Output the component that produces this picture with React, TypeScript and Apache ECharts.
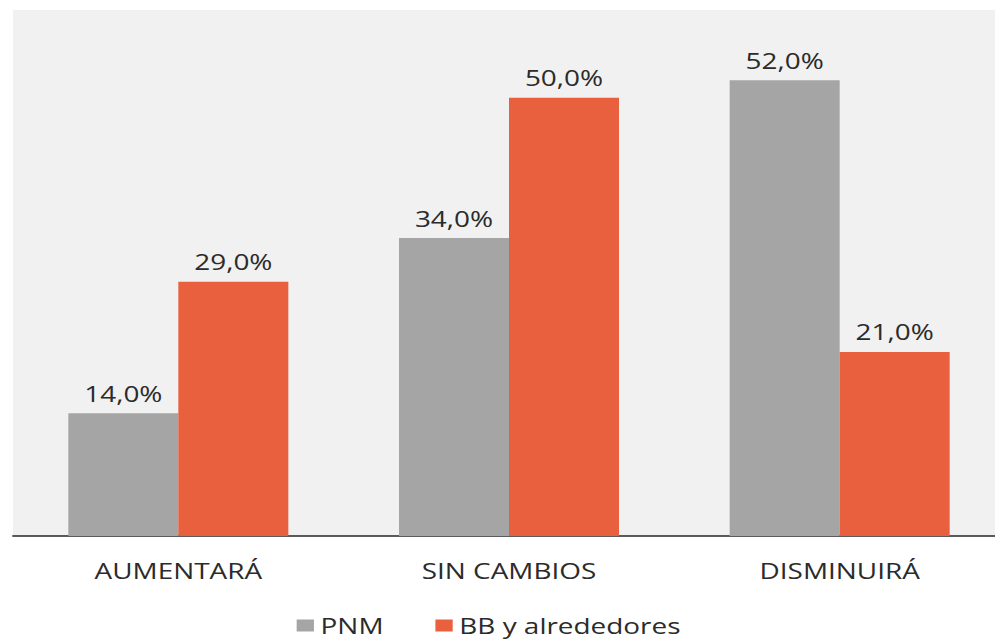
import React, { useEffect, useRef } from 'react';
import * as echarts from 'echarts';

const categories = ['AUMENTARÁ', 'SIN CAMBIOS', 'DISMINUIRÁ'];
const seriesNames = ['PNM', 'BB y alrededores'];
const pnmValues = [14, 34, 52];
const bbValues = [29, 50, 21];

const W = 995;
const H = 640;
const STRETCH = 1.33;
const innerW = 1010 / STRETCH;

export default function App() {
  const ref = useRef<HTMLDivElement>(null);
  useEffect(() => {
    document.body.style.margin = '0';
    const chart = echarts.init(ref.current!, null, { renderer: 'svg' });
    const fmt = (p: any) => Number(p.value).toFixed(1).replace('.', ',') + '%';
    const gridLeft = 13 / STRETCH;
    const gridWidth = 992 / STRETCH;
    chart.setOption({
      animation: false,
      backgroundColor: '#ffffff',
      textStyle: { fontFamily: 'Open Sans' },
      grid: {
        show: true,
        left: gridLeft,
        width: gridWidth,
        top: 10,
        bottom: 104,
        backgroundColor: '#f1f1f1',
        borderWidth: 0,
        containLabel: false,
      },
      legend: {
        data: seriesNames,
        left: 290 / STRETCH,
        top: 610,
        itemWidth: 13,
        itemHeight: 12,
        itemGap: 39,
        icon: 'rect',
        textStyle: { fontFamily: 'Open Sans', fontSize: 21, color: '#2b2b2b' },
      },
      xAxis: {
        type: 'category',
        data: categories,
        axisLine: { show: true, lineStyle: { color: '#262626', width: 1.5 } },
        axisTick: { show: false },
        axisLabel: { fontFamily: 'Open Sans', fontSize: 21, color: '#2b2b2b', margin: 24 },
      },
      yAxis: { type: 'value', min: 0, max: 60, show: false },
      series: [
        {
          name: seriesNames[0],
          type: 'bar',
          data: pnmValues,
          barWidth: 110 / STRETCH,
          barGap: '0%',
          itemStyle: { color: '#a5a5a5' },
          label: { show: true, position: 'top', distance: 9, formatter: fmt, fontFamily: 'Open Sans', fontSize: 21, color: '#2b2b2b' },
        },
        {
          name: seriesNames[1],
          type: 'bar',
          data: bbValues,
          barWidth: 110 / STRETCH,
          barGap: '0%',
          itemStyle: { color: '#e8603d' },
          label: { show: true, position: 'top', distance: 9, formatter: fmt, fontFamily: 'Open Sans', fontSize: 21, color: '#2b2b2b' },
        },
      ],
    });
    return () => chart.dispose();
  }, []);
  return (
    <div style={{ width: W, height: H, overflow: 'hidden' }}>
      <div
        ref={ref}
        style={{ width: innerW, height: H, transform: `scaleX(${STRETCH})`, transformOrigin: '0 0' }}
      />
    </div>
  );
}
